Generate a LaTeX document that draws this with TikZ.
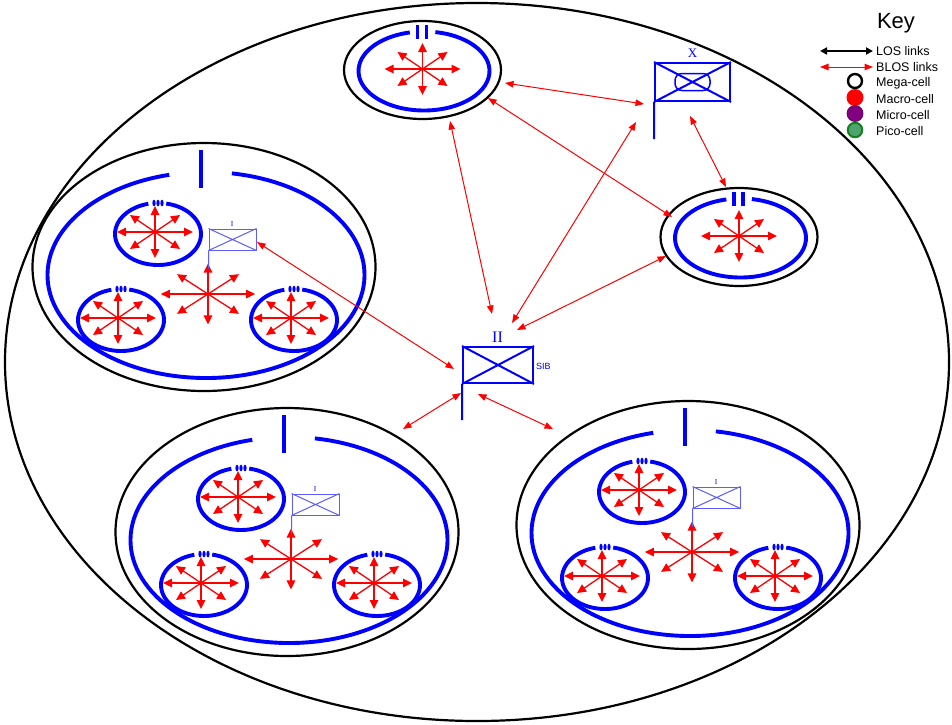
\documentclass[tikz,border=0pt]{standalone}
\usepackage{fontspec}
\setmainfont{Liberation Sans}
\newfontfamily\tagfont{Liberation Serif}
\usetikzlibrary{arrows.meta, shapes.geometric, calc}
\definecolor{cblue}{HTML}{0000FF}
\definecolor{cpale}{HTML}{5C5CFF}
\definecolor{cred}{HTML}{FF0000}
\definecolor{cpurple}{HTML}{800080}
\definecolor{cgreen}{HTML}{4DA46C}
\definecolor{cgreenrim}{HTML}{14801F}
\tikzset{
  rim/.style={draw=black, line width=2.2pt},
  cellrim/.style={rim, ellipse, inner sep=0pt},
  ring/.style={draw=cblue, line width=3.9pt},
  ray/.style={draw=cred, line width=1.3pt, -{Triangle[length=9pt, width=8.5pt]}},
  blos/.style={draw=cred, line width=1pt, {Triangle[length=8.5pt, width=6.5pt]}-{Triangle[length=8.5pt, width=6.5pt]}},
  los/.style={draw=black, line width=2pt, {Triangle[length=7pt, width=7pt]}-{Triangle[length=7pt, width=7pt]}},
  flag/.style={draw=cblue, line width=2pt, inner sep=0pt},
  unitflag/.style={draw=cpale, line width=1pt, inner sep=0pt, minimum width=47pt, minimum height=21pt},
  tag/.style={text=cblue, inner sep=0pt, font=\tagfont\fontsize{#1}{#1}\selectfont},
  tag/.default=16,
  keytext/.style={anchor=base west, inner sep=0pt, font=\fontsize{12.5}{14}\selectfont},
  keydot/.style={circle, inner sep=0pt, minimum size=#1},
  % eight red arrows out of a cell centre
  burst/.pic={
    \foreach \dx/\dy in {38/0, -38/0, 0/26, 0/-26, 25/17, -25/17, 25/-17, -25/-17}
      \draw[ray] (0,0) -- (\dx,\dy);
  },
  minicell/.pic={
    \draw[ring] (-79:43 and 31) arc[start angle=-79, end angle=257, x radius=43, y radius=31];
    \foreach \dx in {-4,0,4}
      \fill[cblue] (\dx,-31) ellipse[x radius=1.6, y radius=3.4];
    \pic at (-3,-2) {burst};
  },
  twincell/.pic={
    \node[cellrim, minimum width=157pt, minimum height=98pt] (-rim) at (0,0) {};
    \draw[ring] (1.5,1) ++(-80:65.5 and 39.5) arc[start angle=-80, end angle=257.5, x radius=65.5, y radius=39.5];
    \draw[ring] (-5,-45) -- (-5,-31) (4,-45) -- (4,-31);
    \pic at (0,-1) {burst};
  },
  bigcell/.pic={
    \node[cellrim, minimum width=343pt, minimum height=248pt] (-rim) at (0,0) {};
    \draw[ring] (2,8) ++(-80.6:158.5 and 103) arc[start angle=-80.6, end angle=256.6, x radius=158.5, y radius=103];
    \draw[ring] (-3,-117) -- (-3,-79);
    \pic at (-46,-33) {minicell};
    \pic at (-83,53) {minicell};
    \pic at (90,53) {minicell};
    \pic[xscale=1.24, yscale=1.17] at (4,27) {burst};
    \node[unitflag] (-flag) at (28.5,-27.5) {};
    \draw[cpale, line width=1pt] (-flag.north west) -- (-flag.south east)
      (-flag.south west) -- (-flag.north east) (-flag.south west) -- ++(0,18);
    \node[tag=7.5] (-tag) at (28,-43) {I};
  },
}

\begin{document}
\begin{tikzpicture}[x=1pt, y=-1pt]
  \useasboundingbox (0,0) rectangle (952,724);
  \draw[rim] (477,362) ellipse [x radius=472, y radius=359];
  % cells
  \pic (twinN) at (422.5,70) {twincell};
  \pic (twinE) at (739,237) {twincell};
  \pic (cellW) at (204,267) {bigcell};
  \pic (cellSW) at (287,532) {bigcell};
  \pic (cellSE) at (688,525) {bigcell};
  % command flags
  \node[flag, minimum width=75pt, minimum height=38pt] (xflag) at (692.5,82) {};
  \draw[flag] (xflag.north west) -- (xflag.south east) (xflag.south west) -- (xflag.north east)
    (xflag.south west) -- ++(0,37);
  \node[draw=cblue, line width=1.5pt, rounded corners=7pt, minimum width=35pt, minimum height=17pt, inner sep=0pt] (xoval) at (xflag.center) {};
  \node[tag=13] (xtag) at (692.5,53) {X};
  \node[flag, minimum width=70pt, minimum height=36pt] (sib) at (498,365) {};
  \draw[flag] (sib.north west) -- (sib.south east) (sib.south west) -- (sib.north east)
    (sib.south west) -- ++(0,36);
  \node[tag] (sibtag) at (497.5,337) {II};
  \node[anchor=west, inner sep=0pt, text=cblue, font=\fontsize{9}{10}\selectfont] (sibname) at (536,366) {SIB};
  % link ends
  \coordinate (n-x) at (505,83);   \coordinate (x-n) at (644,104);
  \coordinate (n-e) at (488,98);   \coordinate (e-n) at (672,217);
  \coordinate (n-s) at (450,121);  \coordinate (s-n) at (492,314);
  \coordinate (x-s) at (636,122);  \coordinate (s-x) at (512,323);
  \coordinate (x-e) at (690,116);  \coordinate (e-x) at (726,187);
  \coordinate (e-s) at (666,256);  \coordinate (s-e) at (517,330);
  \coordinate (w-s) at (257,242);  \coordinate (s-w) at (454,369);
  \coordinate (s-sw) at (461,393); \coordinate (sw-s) at (403,429);
  \coordinate (s-se) at (478,394); \coordinate (se-s) at (553,429);
  \foreach \a/\b in {n-x/x-n, n-e/e-n, n-s/s-n, x-s/s-x, x-e/e-x, e-s/s-e, w-s/s-w, s-sw/sw-s, s-se/se-s}
    \draw[blos] (\a) -- (\b);
  % key
  \node[inner sep=0pt, font=\fontsize{22}{24}\selectfont] (keytitle) at (896,23) {Key};
  \node[keytext, anchor=west] (loslabel) at (876,51) {LOS links};
  \node[keytext, anchor=west] (bloslabel) at (876,67) {BLOS links};
  \draw[los] ([xshift=-56pt]loslabel.west) -- ([xshift=-3pt]loslabel.west);
  \draw[blos] ([xshift=-56pt]bloslabel.west) -- ([xshift=-3pt]bloslabel.west);
  \node[keytext] (megalabel) at (876,86) {Mega-cell};
  \node[keytext] (macrolabel) at (876,103) {Macro-cell};
  \node[keytext] (microlabel) at (876,119) {Micro-cell};
  \node[keytext] (picolabel) at (876,135) {Pico-cell};
  \node[keydot=14pt, draw=black, line width=2.4pt] (megadot) at (855,81) {};
  \node[keydot=17pt, fill=cred] (macrodot) at (855,97.5) {};
  \node[keydot=16pt, fill=cpurple, draw=cpurple!80!black, line width=0.8pt] (microdot) at (855,113.5) {};
  \node[keydot=14.5pt, fill=cgreen, draw=cgreenrim, line width=2pt] (picodot) at (855,130) {};
\end{tikzpicture}
\end{document}
